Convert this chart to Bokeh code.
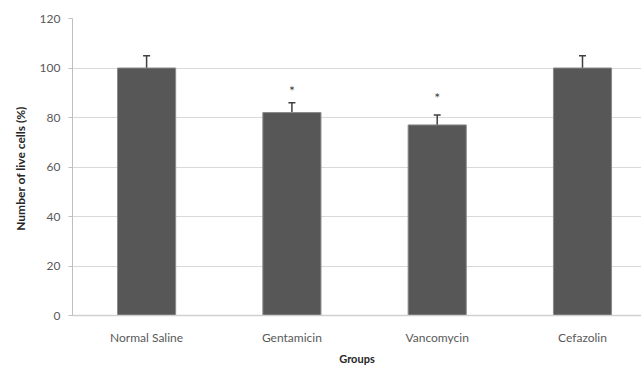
from bokeh.plotting import figure
from bokeh.models import ColumnDataSource, Range1d, FixedTicker, Whisker, TeeHead
from bokeh.core.properties import value
from bokeh.embed import file_html
from bokeh.resources import INLINE

groups = ["Normal Saline", "Gentamicin", "Vancomycin", "Cefazolin"]
live_cells = [100, 82, 77, 100]
errors = [5, 4, 4, 5]
star_labels = ["", "*", "*", ""]
star_pos = [0, 91, 88, 0]
y_ticks = [0, 20, 40, 60, 80, 100, 120]

xs = [i + 0.5 for i in range(len(groups))]
src = ColumnDataSource(dict(
    x=xs, top=live_cells,
    upper=[v + e for v, e in zip(live_cells, errors)],
))

p = figure(width=641, height=367, output_backend="svg", toolbar_location=None,
           x_range=Range1d(-0.01, 3.906), y_range=Range1d(0, 120),
           min_border_left=72, min_border_right=0, min_border_top=18, min_border_bottom=52)
p.outline_line_color = None
p.background_fill_color = "white"

p.vbar(x="x", top="top", bottom=0, width=0.4, source=src,
       fill_color="#575757", line_color="#8a8a8a", line_width=1)

w = Whisker(base="x", upper="upper", lower="top", source=src,
            line_color="#3f3f3f", line_width=1.5,
            upper_head=TeeHead(size=7, line_color="#3f3f3f", line_width=1.5),
            lower_head=None)
p.add_layout(w)

sx = [x for x, s in zip(xs, star_labels) if s]
sy = [y for y, s in zip(star_pos, star_labels) if s]
st = [s for s in star_labels if s]
p.text(x=sx, y=sy, text=st, text_align="center", text_baseline="middle",
       text_font=value("Lato"), text_font_size="14px", text_color="#404040")

# grid
p.xgrid.grid_line_color = None
p.ygrid.grid_line_color = "#d9d9d9"
p.ygrid.grid_line_width = 1

# y axis
p.yaxis.ticker = FixedTicker(ticks=y_ticks)
p.yaxis.axis_line_color = "#bfbfbf"
p.yaxis.major_tick_line_color = "#bfbfbf"
p.yaxis.major_tick_out = 4
p.yaxis.major_tick_in = 0
p.yaxis.minor_tick_line_color = None
p.yaxis.major_label_standoff = 8
p.yaxis.major_label_text_font = "Lato"
p.yaxis.major_label_text_font_size = "12px"
p.yaxis.major_label_text_color = "#595959"
p.yaxis.axis_label = "Number of live cells  (%)"
p.yaxis.axis_label_text_font = "Lato"
p.yaxis.axis_label_text_font_size = "12px"
p.yaxis.axis_label_text_font_style = "bold"
p.yaxis.axis_label_text_color = "#262626"
p.yaxis.axis_label_standoff = 9

# x axis
p.xaxis.ticker = FixedTicker(ticks=xs)
p.xaxis.major_label_overrides = {x: g for x, g in zip(xs, groups)}
p.xaxis.axis_line_color = "#d0d0d0"
p.xaxis.axis_line_width = 1.5
p.xaxis.major_tick_line_color = None
p.xaxis.major_tick_out = 0
p.xaxis.major_tick_in = 0
p.xaxis.minor_tick_line_color = None
p.xaxis.major_label_standoff = 14
p.xaxis.major_label_text_font = "Lato"
p.xaxis.major_label_text_font_size = "12px"
p.xaxis.major_label_text_color = "#595959"
p.xaxis.axis_label = "Groups"
p.xaxis.axis_label_text_font = "Lato"
p.xaxis.axis_label_text_font_size = "11px"
p.xaxis.axis_label_text_font_style = "bold"
p.xaxis.axis_label_text_color = "#262626"
p.xaxis.axis_label_standoff = 4

open("out.html", "w").write(file_html(p, INLINE))
